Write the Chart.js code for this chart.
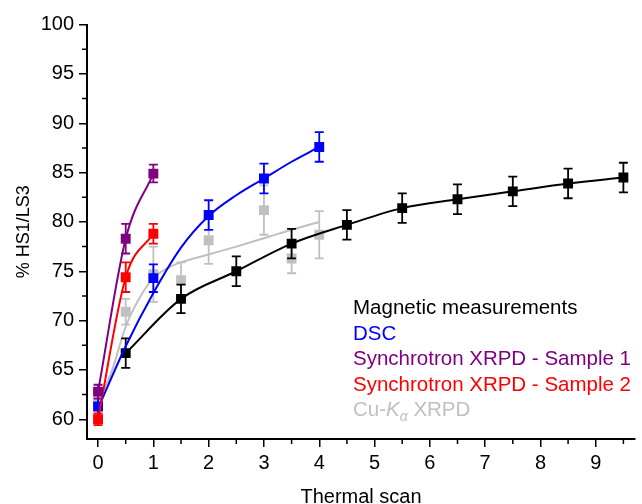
<!DOCTYPE html>
<html>
<head>
<meta charset="utf-8">
<script src="https://cdn.jsdelivr.net/npm/chart.js@4.4.1/dist/chart.umd.min.js"></script>
<style>
  html, body { margin: 0; padding: 0; background: #fff; }
  #wrap { width: 642px; height: 504px; }
</style>
</head>
<body>
<div id="wrap"><canvas id="hsChart"></canvas></div>
<script>
const FONT = "'Liberation Sans', Arial, sans-serif";

// magnetic measurements (fit line goes through the points)
const magX = [0.5, 1.5, 2.5, 3.5, 4.5, 5.5, 6.5, 7.5, 8.5, 9.5];
const magY = [66.7, 72.2, 75.0, 77.8, 79.7, 81.4, 82.3, 83.1, 83.9, 84.5];
const magErr = [1.5, 1.45, 1.5, 1.5, 1.5, 1.5, 1.5, 1.5, 1.5, 1.5];

// DSC
const dscX = [0, 1, 2, 3, 4];
const dscY = [61.3, 74.3, 80.7, 84.4, 87.6];
const dscErr = [1.5, 1.4, 1.5, 1.5, 1.5];
const dscFitX = [0, 0.5, 1, 1.5, 2, 2.5, 3, 3.5, 4];
const dscFitY = [61.1, 67.4, 72.8, 77.4, 80.6, 82.7, 84.4, 86.1, 87.6];

// synchrotron sample 1
const syn1X = [0, 0.5, 1];
const syn1Y = [62.8, 78.3, 84.9];
const syn1Err = [0.7, 1.5, 0.9];

// synchrotron sample 2
const syn2X = [0, 0.5, 1];
const syn2Y = [60.0, 74.4, 78.8];
const syn2Err = [0.6, 1.5, 1.0];

// Cu-Ka XRPD
const cuX = [0, 0.5, 1, 1.5, 2, 3, 3.5, 4];
const cuY = [62.2, 70.9, 74.7, 74.1, 78.15, 81.2, 76.3, 78.7];
const cuErr = [0.6, 1.3, 2.8, 1.8, 2.4, 2.5, 1.5, 2.4];
const cuFitX = [0, 0.25, 0.5, 0.75, 1, 1.25, 1.5, 2, 2.5, 3, 3.5, 4];
const cuFitY = [61.6, 64.9, 69.4, 72.3, 74.3, 75.3, 75.9, 76.7, 77.5, 78.35, 79.2, 80.0];

// minor ticks
const xMinor = [0.5, 1.5, 2.5, 3.5, 4.5, 5.5, 6.5, 7.5, 8.5, 9.5];
const yMinor = [62.5, 67.5, 72.5, 77.5, 82.5, 87.5, 92.5, 97.5];

const legendItems = [
  { text: 'Magnetic measurements', color: '#000000' },
  { text: 'DSC', color: '#0000ff' },
  { text: 'Synchrotron XRPD - Sample 1', color: '#800080' },
  { text: 'Synchrotron XRPD - Sample 2', color: '#ff0000' },
  { text: 'Cu-K', sub: '\u03b1', rest: ' XRPD', color: '#c0c0c0' },
];

const pts = (xs, ys) => xs.map((x, i) => ({ x, y: ys[i] }));

function markers(label, xs, ys, errs, color, order, line) {
  return {
    label, data: pts(xs, ys), errors: errs, order,
    showLine: !!line, borderColor: color, backgroundColor: color,
    borderWidth: 2, cubicInterpolationMode: 'monotone',
    pointStyle: 'rect', pointRadius: 7, pointHoverRadius: 7,
    pointBorderWidth: 0, pointBackgroundColor: color,
  };
}

function fitLine(label, xs, ys, color, order) {
  return {
    label, data: pts(xs, ys), order, showLine: true,
    borderColor: color, borderWidth: 2, pointRadius: 0, pointHoverRadius: 0,
    cubicInterpolationMode: 'monotone',
  };
}

const errorBars = {
  id: 'errorBars',
  beforeDatasetDraw(chart, args) {
    const ds = chart.data.datasets[args.index];
    if (!ds.errors) return;
    const { ctx, scales: { x, y } } = chart;
    ctx.save();
    ctx.strokeStyle = ds.borderColor;
    ctx.lineWidth = 1.8;
    ds.data.forEach((p, i) => {
      const e = ds.errors[i];
      const px = x.getPixelForValue(p.x);
      const top = y.getPixelForValue(p.y + e);
      const bot = y.getPixelForValue(p.y - e);
      ctx.beginPath();
      ctx.moveTo(px, top); ctx.lineTo(px, bot);
      ctx.moveTo(px - 4.5, top); ctx.lineTo(px + 4.5, top);
      ctx.moveTo(px - 4.5, bot); ctx.lineTo(px + 4.5, bot);
      ctx.stroke();
    });
    ctx.restore();
  },
};

const minorTicks = {
  id: 'minorTicks',
  afterDraw(chart) {
    const { ctx, chartArea, scales: { x, y } } = chart;
    ctx.save();
    ctx.strokeStyle = '#000';
    ctx.lineWidth = 1.5;
    ctx.beginPath();
    xMinor.forEach(v => {
      const px = x.getPixelForValue(v);
      ctx.moveTo(px, chartArea.bottom); ctx.lineTo(px, chartArea.bottom + 5);
    });
    yMinor.forEach(v => {
      const py = y.getPixelForValue(v);
      ctx.moveTo(chartArea.left, py); ctx.lineTo(chartArea.left - 5, py);
    });
    ctx.stroke();
    ctx.restore();
  },
};

const textLegend = {
  id: 'textLegend',
  afterDraw(chart) {
    const ctx = chart.ctx;
    const x0 = 353, y0 = 314, step = 25.6;
    const size = 20.5;
    ctx.save();
    ctx.textBaseline = 'alphabetic';
    ctx.textAlign = 'left';
    legendItems.forEach((it, i) => {
      const yy = y0 + i * step;
      ctx.fillStyle = it.color;
      ctx.font = size + 'px ' + FONT;
      if (!it.sub) {
        ctx.fillText(it.text, x0, yy);
        return;
      }
      let xx = x0;
      ctx.fillText('Cu-', xx, yy);
      xx += ctx.measureText('Cu-').width;
      ctx.font = 'italic ' + size + 'px ' + FONT;
      ctx.fillText('K', xx, yy);
      xx += ctx.measureText('K').width;
      ctx.font = 'italic 14px ' + FONT;
      ctx.fillText(it.sub, xx, yy + 5);
      xx += ctx.measureText(it.sub).width;
      ctx.font = size + 'px ' + FONT;
      ctx.fillText(it.rest, xx, yy);
    });
    ctx.restore();
  },
};

new Chart(document.getElementById('hsChart'), {
  type: 'scatter',
  data: {
    datasets: [
      markers('Magnetic measurements', magX, magY, magErr, '#000000', 4, true),
      markers('DSC', dscX, dscY, dscErr, '#0000ff', 3, false),
      fitLine('DSC fit', dscFitX, dscFitY, '#0000ff', 3),
      markers('Synchrotron XRPD - Sample 1', syn1X, syn1Y, syn1Err, '#800080', 1, true),
      markers('Synchrotron XRPD - Sample 2', syn2X, syn2Y, syn2Err, '#ff0000', 2, true),
      markers('Cu-Ka XRPD', cuX, cuY, cuErr, '#c0c0c0', 5, false),
      fitLine('Cu-Ka fit', cuFitX, cuFitY, '#c0c0c0', 5),
    ],
  },
  options: {
    responsive: true, maintainAspectRatio: false, animation: false,
    layout: { padding: { top: 24.6, left: 0, right: 0, bottom: 0 } },
    plugins: { legend: { display: false }, tooltip: { enabled: false } },
    scales: {
      x: {
        type: 'linear', min: -0.2, max: 9.71,
        afterFit: (s) => { s.height = 65; },
        border: { display: true, color: '#000', width: 2 },
        grid: { display: true, drawOnChartArea: false, tickLength: 8, color: '#000', lineWidth: 1.5 },
        ticks: { stepSize: 1, includeBounds: false, padding: 4, color: '#000', font: { family: FONT, size: 20 } },
        title: { display: true, text: 'Thermal scan', color: '#000', font: { family: FONT, size: 20 }, padding: { top: 0, bottom: -5 } },
      },
      y: {
        type: 'linear', min: 58, max: 100,
        afterFit: (s) => { s.width = 87; },
        border: { display: true, color: '#000', width: 2 },
        grid: { display: true, drawOnChartArea: false, tickLength: 8, color: '#000', lineWidth: 1.5 },
        ticks: { stepSize: 5, includeBounds: false, padding: 5, color: '#000', font: { family: FONT, size: 20 } },
        title: { display: true, text: '% HS1/LS3', color: '#000', font: { family: FONT, size: 18 }, padding: { top: 13, bottom: 0 } },
      },
    },
  },
  plugins: [errorBars, minorTicks, textLegend],
});
</script>
</body>
</html>
